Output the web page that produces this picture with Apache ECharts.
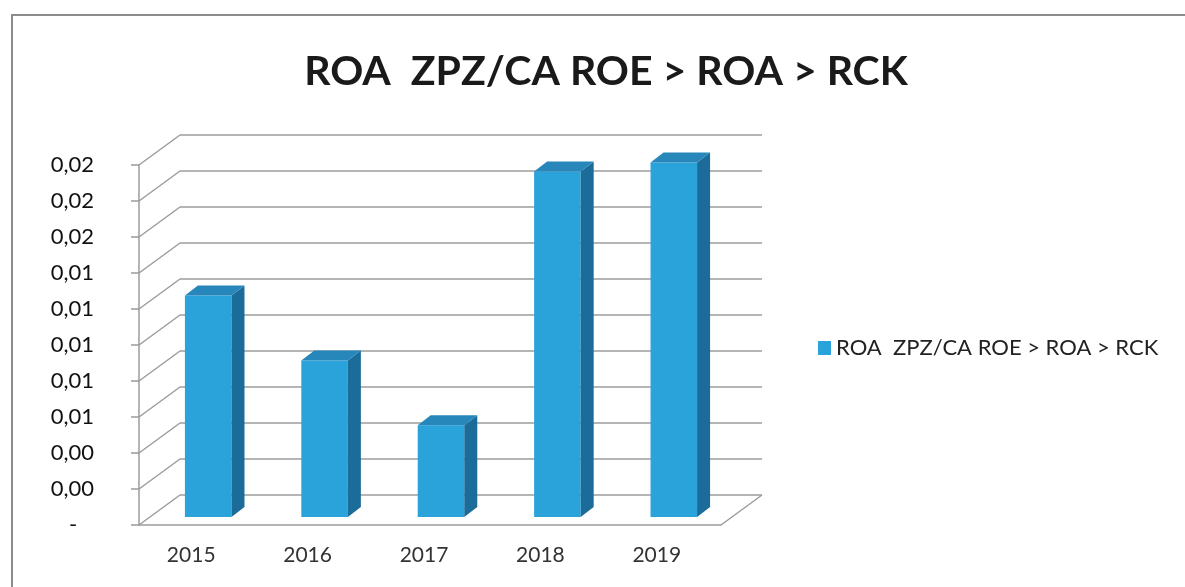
<!DOCTYPE html>
<html>
<head>
<meta charset="utf-8">
<title>ROA ZPZ/CA</title>
<script src="https://cdn.jsdelivr.net/npm/echarts@6/dist/echarts.min.js"></script>
<style>
  html, body { margin: 0; padding: 0; background: #fff; }
  #chart { width: 1185px; height: 587px; }
</style>
</head>
<body>
<div id="chart"></div>
<script>
// data
const years = ['2015', '2016', '2017', '2018', '2019']
const roaValues = [0.0123, 0.0087, 0.0051, 0.0192, 0.0197]
const yTicks = [0, 0.002, 0.004, 0.006, 0.008, 0.01, 0.012, 0.014, 0.016, 0.018, 0.02]
const seriesName = 'ROA  ZPZ/CA ROE > ROA > RCK'

// layout of the fake 3d box
const FRONT = { left: 139, top: 165, width: 582, height: 360 }
const DEPTH = [41, -30]      // front plane -> back wall
const BAR_SHIFT = [11, -8]   // front plane -> bar front face
const BAR_DEPTH = [13, -10]  // bar thickness
const GRID_COLOR = '#9c9c9c'
const FRONT_COLOR = '#2aa3db'
const SIDE_COLOR = '#1c6c99'
const TOP_COLOR = '#2787bb'

const chart = echarts.init(document.getElementById('chart'))

function tickLabel(v) {
  if (v === 0) return '-   '
  return v.toFixed(2).replace('.', ',')
}

function renderWall(params, api) {
  const cs = params.coordSys
  const y = api.coord([0, api.value(1)])[1]
  const style = { stroke: GRID_COLOR, lineWidth: 1.5 }
  const children = [{
    type: 'line',
    shape: { x1: cs.x, y1: y, x2: cs.x + DEPTH[0], y2: y + DEPTH[1] },
    style
  }]
  if (params.dataIndex === 0) {
    // right edge of the floor
    children.push({
      type: 'line',
      shape: { x1: cs.x + cs.width, y1: y, x2: cs.x + cs.width + DEPTH[0], y2: y + DEPTH[1] },
      style
    })
  }
  return { type: 'group', children }
}

function renderBar(params, api) {
  const i = api.value(0)
  const base = api.coord([i, 0])
  const top = api.coord([i, api.value(1)])
  const w = api.size([1, 0])[0] * 0.4
  const x0 = base[0] + BAR_SHIFT[0] - w / 2
  const x1 = x0 + w
  const yb = base[1] + BAR_SHIFT[1]
  const yt = top[1] + BAR_SHIFT[1]
  const dx = BAR_DEPTH[0], dy = BAR_DEPTH[1]
  return {
    type: 'group',
    children: [
      { type: 'rect', shape: { x: x0, y: yt, width: w, height: yb - yt }, style: { fill: FRONT_COLOR } },
      { type: 'polygon', shape: { points: [[x1, yt], [x1 + dx, yt + dy], [x1 + dx, yb + dy], [x1, yb]] }, style: { fill: SIDE_COLOR } },
      { type: 'polygon', shape: { points: [[x0, yt], [x1, yt], [x1 + dx, yt + dy], [x0 + dx, yt + dy]] }, style: { fill: TOP_COLOR } }
    ]
  }
}

chart.setOption({
  animation: false,
  title: {
    text: seriesName,
    left: 601,
    top: 46,
    textAlign: 'center',
    textStyle: { fontFamily: 'Lato', fontWeight: 'bold', fontSize: 41, color: '#1a1a1a' }
  },
  legend: {
    data: [{ name: seriesName, icon: 'rect' }],
    left: 813,
    top: 332,
    itemWidth: 13,
    itemHeight: 14,
    itemGap: 6,
    textStyle: { fontFamily: 'Lato', fontSize: 22, color: '#222' }
  },
  graphic: [{
    type: 'rect',
    shape: { x: 12, y: 15, width: 1200, height: 600 },
    style: { fill: 'none', stroke: '#8c8c8c', lineWidth: 2 },
    silent: true,
    z: -10
  }],
  grid: [
    { left: FRONT.left, top: FRONT.top, width: FRONT.width, height: FRONT.height },
    { left: FRONT.left + DEPTH[0], top: FRONT.top + DEPTH[1], width: FRONT.width, height: FRONT.height }
  ],
  xAxis: [
    {
      type: 'category',
      gridIndex: 0,
      data: years,
      axisLine: { lineStyle: { color: GRID_COLOR, width: 1.5 } },
      axisTick: { length: 8, lineStyle: { color: GRID_COLOR, width: 1.5 } },
      axisLabel: { margin: 20, padding: [0, 12, 0, 0], fontFamily: 'Lato', fontSize: 21, color: '#333' }
    },
    { type: 'category', gridIndex: 1, data: years, show: false }
  ],
  yAxis: [
    {
      type: 'value',
      gridIndex: 0,
      min: 0,
      max: 0.02,
      interval: 0.002,
      axisLine: { show: true, lineStyle: { color: GRID_COLOR, width: 1.5 } },
      axisTick: { show: true, length: 8, lineStyle: { color: GRID_COLOR, width: 1.5 } },
      splitLine: { show: false },
      axisLabel: { margin: 45, fontFamily: 'Lato', fontSize: 22, color: '#111', formatter: tickLabel }
    },
    {
      type: 'value',
      gridIndex: 1,
      min: 0,
      max: 0.02,
      interval: 0.002,
      axisLine: { show: false },
      axisTick: { show: false },
      axisLabel: { show: false },
      splitLine: { show: true, lineStyle: { color: GRID_COLOR, width: 1.5 } }
    }
  ],
  series: [
    {
      type: 'custom',
      name: 'wall',
      xAxisIndex: 0,
      yAxisIndex: 0,
      silent: true,
      z: 1,
      renderItem: renderWall,
      data: yTicks.map(v => [0, v])
    },
    {
      type: 'custom',
      name: seriesName,
      xAxisIndex: 0,
      yAxisIndex: 0,
      z: 3,
      itemStyle: { color: FRONT_COLOR },
      renderItem: renderBar,
      encode: { x: 0, y: 1 },
      data: roaValues.map((v, i) => [i, v])
    }
  ]
})
</script>
</body>
</html>
